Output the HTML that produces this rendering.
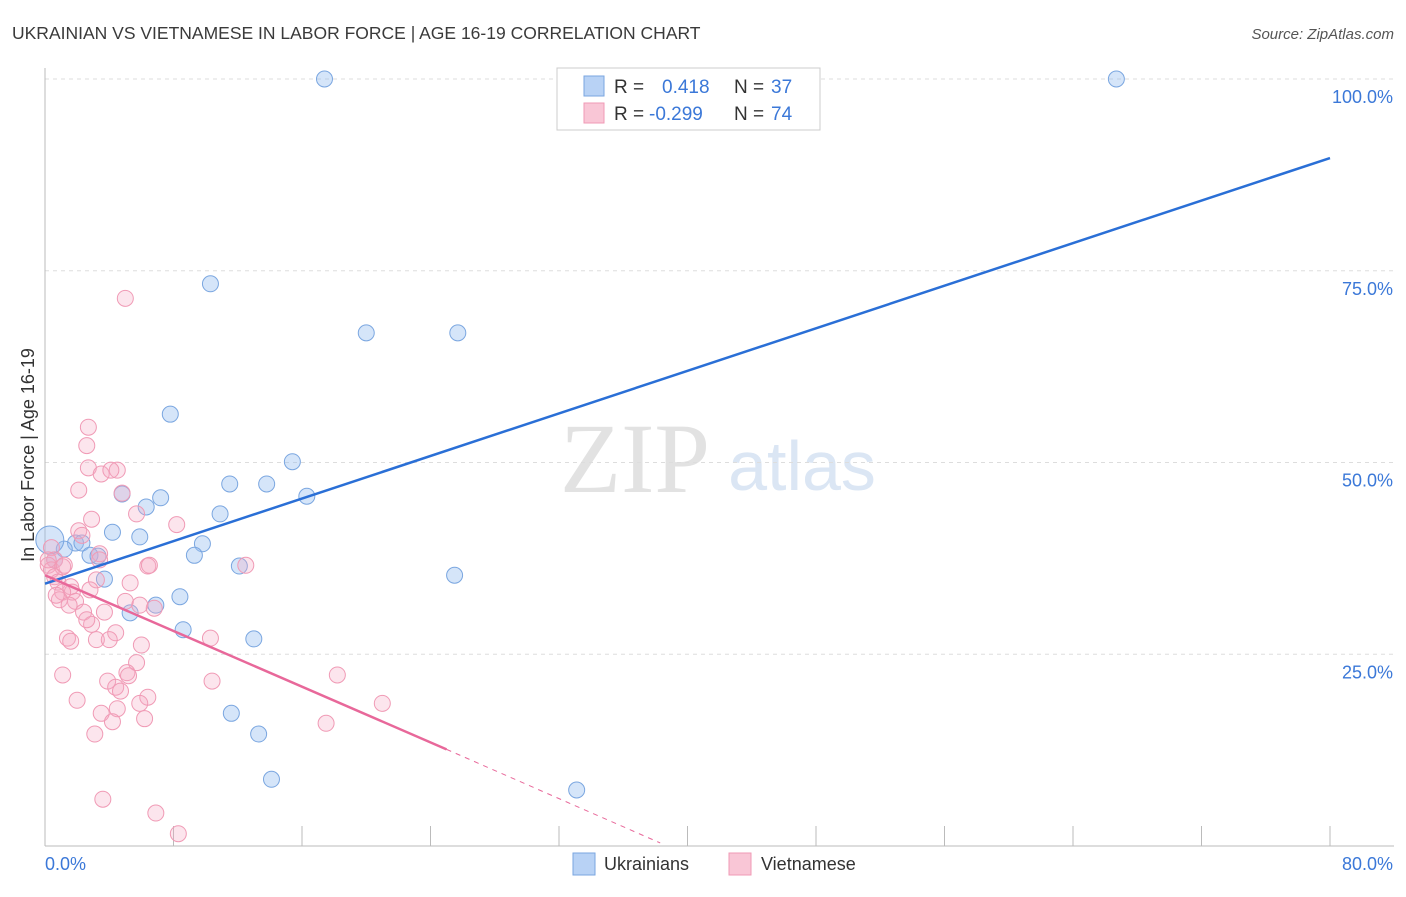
<!DOCTYPE html>
<html><head><meta charset="utf-8"><style>
body{margin:0;background:#fff;font-family:"Liberation Sans",sans-serif;}
</style></head><body>
<svg id="c" width="1406" height="892" style="font-family:'Liberation Sans',sans-serif">
<text x="12" y="39" font-size="17.5" fill="#3a3a3a">UKRAINIAN VS VIETNAMESE IN LABOR FORCE | AGE 16-19 CORRELATION CHART</text>
<text x="1394" y="39" font-size="15" fill="#555" font-style="italic" text-anchor="end">Source: ZipAtlas.com</text>
<text x="635" y="492" font-size="100" fill="#e2e2e2" style="font-family:'Liberation Serif',serif" text-anchor="middle">ZIP</text>
<text x="802" y="490" font-size="70" fill="#dbe6f4" text-anchor="middle">atlas</text>
<g id="grid"></g><g id="marks"></g>
<text transform="translate(34,455) rotate(-90)" font-size="18" fill="#333" text-anchor="middle">In Labor Force | Age 16-19</text>
<text x="45" y="870" font-size="18" fill="#3b78d8">0.0%</text>
<text x="1393" y="870" font-size="18" fill="#3b78d8" text-anchor="end">80.0%</text>
<g>
<rect x="557" y="68" width="263" height="62" fill="#fff" stroke="#ccc"/>
<rect x="584" y="76" width="20" height="20" fill="#b8d2f5" stroke="#7aa6e0"/>
<rect x="584" y="103" width="20" height="20" fill="#f9c6d6" stroke="#f09ab5"/>
<text x="614" y="93" font-size="19" fill="#333">R =</text><text x="662" y="93" font-size="19" fill="#3b78d8">0.418</text>
<text x="734" y="93" font-size="19" fill="#333">N =</text><text x="771" y="93" font-size="19" fill="#3b78d8">37</text>
<text x="614" y="120" font-size="19" fill="#333">R =</text><text x="649" y="120" font-size="19" fill="#3b78d8">-0.299</text>
<text x="734" y="120" font-size="19" fill="#333">N =</text><text x="771" y="120" font-size="19" fill="#3b78d8">74</text>
</g>
<g>
<rect x="573" y="853" width="22" height="22" fill="#b8d2f5" stroke="#7aa6e0"/>
<text x="604" y="870" font-size="18" fill="#333">Ukrainians</text>
<rect x="729" y="853" width="22" height="22" fill="#f9c6d6" stroke="#f09ab5"/>
<text x="761" y="870" font-size="18" fill="#333">Vietnamese</text>
</g>
</svg>
<script>
const blueX=[17.4,66.7,10.3,20.0,25.7,7.8,15.4,11.5,13.8,7.2,16.3,4.8,6.3,10.9,4.2,5.9,9.8,9.3,12.1,1.9,2.3,1.2,2.8,3.3,3.7,0.6,0.3,25.5,8.4,6.9,5.3,8.6,13.0,11.6,13.3,14.1,33.1];
const blueY=[100,100,73.3,66.9,66.9,56.3,50.1,47.2,47.2,45.4,45.6,45.9,44.2,43.3,40.9,40.3,39.4,37.9,36.5,39.5,39.5,38.7,37.9,37.8,34.8,37.3,39.9,35.3,32.5,31.4,30.4,28.2,27.0,17.3,14.6,8.7,7.3];
const pinkX=[5.0,2.7,2.6,2.7,4.5,3.5,4.1,2.1,4.8,2.9,5.7,8.2,2.1,2.3,3.4,6.4,6.5,12.5,0.4,0.6,0.2,0.4,1.1,0.6,0.8,1.6,1.7,3.2,5.3,1.1,0.9,1.9,1.5,5.0,6.8,3.7,2.4,2.9,4.4,1.4,1.6,3.2,6.0,10.3,1.1,3.9,5.7,5.1,5.2,4.4,4.7,6.4,10.4,18.2,2.0,4.5,3.5,5.9,4.2,6.2,21.0,17.5,3.1,3.6,6.9,8.3,0.2,0.7,4.0,2.6,5.9,3.4,1.2,2.8];
const pinkY=[71.4,54.6,52.2,49.3,49.0,48.5,49.0,46.4,46.0,42.6,43.3,41.9,41.1,40.5,38.1,36.5,36.6,36.6,38.9,37.3,36.6,36.0,36.4,35.1,34.4,33.8,33.1,34.7,34.3,33.1,32.1,31.9,31.4,31.9,31.0,30.5,30.5,28.9,27.8,27.1,26.7,26.9,26.2,27.1,22.3,21.5,23.9,22.6,22.2,20.7,20.2,19.4,21.5,22.3,19.0,17.9,17.3,18.6,16.2,16.6,18.6,16.0,14.6,6.1,4.3,1.6,37.3,32.7,26.9,29.5,31.4,37.3,36.6,33.4];
const yTicks=[25,50,75,100];
const xTicks=[0,8,16,24,32,40,48,56,64,72,80];
const blueLine=[34.2,89.7];
const pinkLine=[35.3,12.6,0.4];
const pinkLineX=[0,25,38.3];
const sx=v=>45+v/80*1285, sy=v=>846-v/100*767;
const NS="http://www.w3.org/2000/svg";
function mk(t,a,p){const e=document.createElementNS(NS,t);for(const k in a)e.setAttribute(k,a[k]);p.appendChild(e);return e;}
const g=document.getElementById('grid'), m=document.getElementById('marks');
yTicks.forEach(t=>{const l=mk('line',{x1:45,x2:1394,y1:sy(t),y2:sy(t),stroke:'#ddd','stroke-dasharray':'4,4'},g);


const tx=mk('text',{x:1393,y:sy(t)+24,'font-size':18,fill:'#3b78d8','text-anchor':'end'},g);tx.textContent=t.toFixed(1)+'%';

});
mk('line',{x1:45,x2:45,y1:68,y2:846,stroke:'#bbb'},g);
mk('line',{x1:45,x2:1394,y1:846,y2:846,stroke:'#bbb'},g);
xTicks.forEach(t=>{const l=mk('line',{x1:sx(t),x2:sx(t),y1:826,y2:846,stroke:'#bbb'},g);

});
blueX.forEach((x,i)=>{const c=mk('circle',{cx:sx(x),cy:sy(blueY[i]),r:(i==26?14:8),fill:'rgba(150,190,240,0.4)',stroke:'#7aa6e0','stroke-width':1},m);

});
pinkX.forEach((x,i)=>{const c=mk('circle',{cx:sx(x),cy:sy(pinkY[i]),r:8,fill:'rgba(245,170,195,0.3)',stroke:'#f09ab5','stroke-width':1},m);

});
const bl=mk('line',{x1:sx(0),y1:sy(blueLine[0]),x2:sx(80),y2:sy(blueLine[1]),stroke:'#2a6fd6','stroke-width':2.5},m);


const pl=mk('line',{x1:sx(pinkLineX[0]),y1:sy(pinkLine[0]),x2:sx(pinkLineX[1]),y2:sy(pinkLine[1]),stroke:'#e8689a','stroke-width':2.5},m);


const pd=mk('line',{x1:sx(pinkLineX[1]),y1:sy(pinkLine[1]),x2:sx(pinkLineX[2]),y2:sy(pinkLine[2]),stroke:'#e8689a','stroke-width':1,'stroke-dasharray':'5,5'},m);


</script>
</body></html>
